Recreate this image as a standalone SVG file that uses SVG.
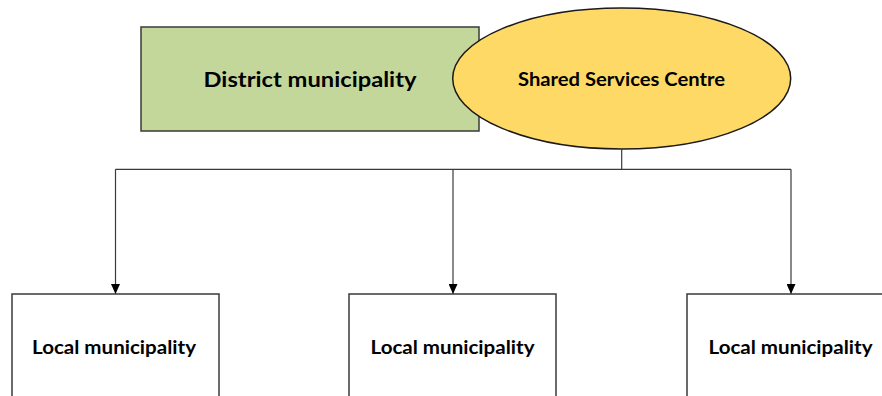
<svg xmlns="http://www.w3.org/2000/svg" width="882" height="396" viewBox="0 0 882 396">
  <style>
    .box { fill: #ffffff; stroke: #3a3a3a; stroke-width: 1.5; }
    .lbl { font-family: Lato, "Liberation Sans", sans-serif; font-weight: bold; fill: #000000; text-anchor: middle; }
    .wire { fill: none; stroke: #3a3a3a; stroke-width: 1.2; }
  </style>
  <defs>
    <marker id="arrow" viewBox="0 0 10 9" refX="10" refY="4.5" markerWidth="10" markerHeight="9" markerUnits="userSpaceOnUse" orient="auto">
      <path d="M0,0 L10,4.5 L0,9 Z" fill="#000000"/>
    </marker>
  </defs>
  <rect width="882" height="396" fill="#ffffff"/>

  <g id="district">
    <rect x="141" y="27" width="338" height="104" fill="#c4d79b" stroke="#3a3a3a" stroke-width="1.5"/>
    <text class="lbl" x="310" y="87" font-size="21.5" textLength="213" lengthAdjust="spacingAndGlyphs">District municipality</text>
  </g>

  <g id="shared-services">
    <ellipse cx="621.7" cy="78.5" rx="169" ry="70.5" fill="#ffd966" stroke="#1a1a1a" stroke-width="1.5"/>
    <text class="lbl" x="621.5" y="86" font-size="18.5" textLength="207" lengthAdjust="spacingAndGlyphs">Shared Services Centre</text>
  </g>

  <g id="connectors">
    <path class="wire" d="M621.7,149 V169.3"/>
    <path class="wire" d="M115.5,169.3 H791"/>
    <path class="wire" d="M115.5,169.3 V294" marker-end="url(#arrow)"/>
    <path class="wire" d="M453,169.3 V294" marker-end="url(#arrow)"/>
    <path class="wire" d="M791,169.3 V294" marker-end="url(#arrow)"/>
  </g>

  <g id="local-1">
    <rect class="box" x="12" y="294" width="207" height="120"/>
    <text class="lbl" x="114" y="353.5" font-size="18.5" textLength="164" lengthAdjust="spacingAndGlyphs">Local municipality</text>
  </g>

  <g id="local-2">
    <rect class="box" x="349" y="294" width="207" height="120"/>
    <text class="lbl" x="452.5" y="353.5" font-size="18.5" textLength="164" lengthAdjust="spacingAndGlyphs">Local municipality</text>
  </g>

  <g id="local-3">
    <rect class="box" x="687" y="294" width="207" height="120"/>
    <text class="lbl" x="790.5" y="353.5" font-size="18.5" textLength="164" lengthAdjust="spacingAndGlyphs">Local municipality</text>
  </g>
</svg>
